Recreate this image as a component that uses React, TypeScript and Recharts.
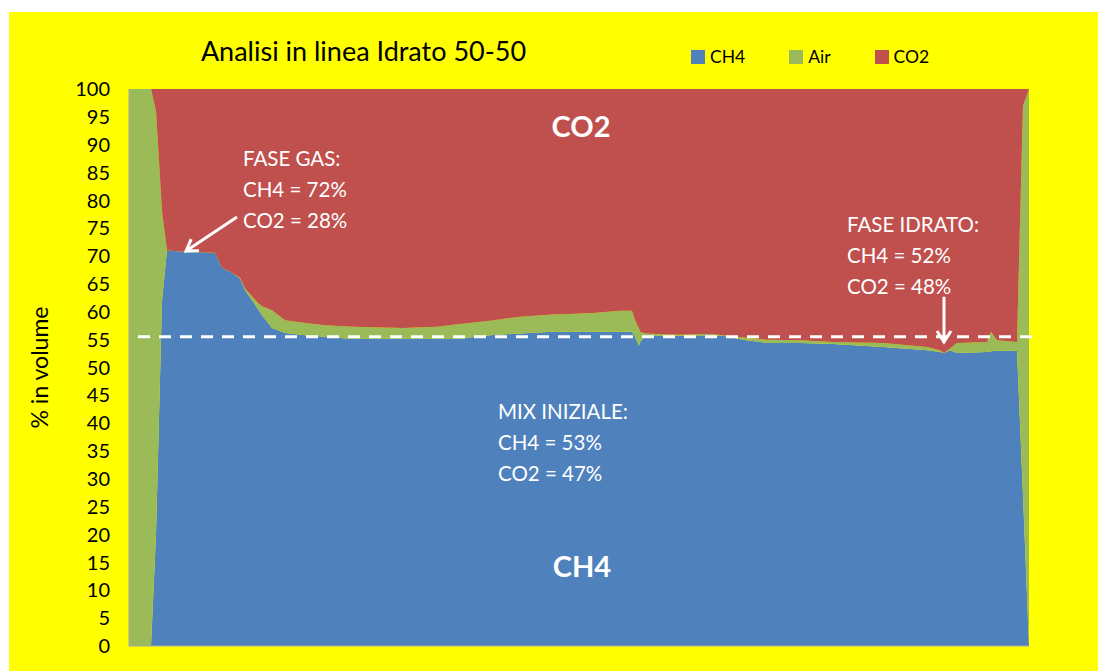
import React from 'react';
import { AreaChart, Area, XAxis, YAxis, ReferenceLine } from 'recharts';

// sample time (arbitrary units along the run)
const time = [0, 22, 27, 33, 38, 56, 86, 93, 103, 111, 116, 129, 133, 143, 156, 176, 196, 224, 274, 308, 331, 341, 361, 391, 424, 441, 464, 491, 503, 506, 510, 511, 516, 548, 581, 594, 614, 631, 638, 671, 704, 754, 798, 811, 815, 821, 828, 858, 862, 868, 888, 894, 900];
const ch4 = [0, 0, 20, 62, 71, 70.8, 70.6, 67.9, 67.0, 66.0, 63.9, 60.5, 59.4, 57.1, 56.2, 55.8, 55.5, 55.1, 55.1, 55.1, 55.1, 55.4, 55.8, 56.1, 56.4, 56.4, 56.4, 56.4, 56.4, 55.5, 53.9, 54.5, 55.8, 55.7, 55.8, 55.7, 55.0, 54.6, 54.4, 54.4, 54.2, 53.7, 53.1, 52.8, 52.6, 53.1, 52.6, 52.8, 52.9, 53.0, 53.0, 27, 0];
const air = [100, 100, 76, 16, 0, 0, 0, 0, 0, 0.1, 0.3, 1.1, 1.6, 3.2, 2.3, 2.2, 2.1, 2.2, 2.0, 2.2, 2.7, 2.6, 2.6, 3.0, 3.1, 3.2, 3.4, 3.8, 3.8, 3.0, 3.1, 1.9, 0.3, 0.2, 0.2, 0.1, 0.4, 0.5, 0.6, 0.5, 0.4, 0.7, 0.6, 0.3, 0, 0.3, 1.8, 1.8, 3.5, 1.9, 1.6, 70, 100];
const co2 = [0, 0, 4, 22, 29.0, 29.2, 29.4, 32.1, 33.0, 33.9, 35.8, 38.4, 39.0, 39.7, 41.5, 42.0, 42.4, 42.7, 42.9, 42.7, 42.2, 42.0, 41.6, 40.9, 40.5, 40.4, 40.2, 39.8, 39.8, 41.5, 43.0, 43.6, 43.9, 44.1, 44.0, 44.2, 44.6, 44.9, 45.0, 45.1, 45.4, 45.6, 46.3, 46.9, 47.4, 46.6, 45.6, 45.4, 43.6, 45.1, 45.4, 3, 0];

const seriesNames = ['CH4', 'Air', 'CO2'];
const seriesColors = ['#4F81BD', '#9BBB59', '#C0504D'];
const yTicks = [0, 5, 10, 15, 20, 25, 30, 35, 40, 45, 50, 55, 60, 65, 70, 75, 80, 85, 90, 95, 100];

const mixLevel = 55.5;
const dashSpan = [9, 909];
const gasArrow = [{ x: 108, y: 77 }, { x: 57, y: 70.9 }];
const hydrateArrow = [{ x: 815, y: 62.7 }, { x: 815, y: 54.6 }];

const data = time.map((t, i) => ({ t, CH4: ch4[i], Air: air[i], CO2: co2[i] }));

const Arrow = (props: any) => {
  const { x1, y1, x2, y2 } = props;
  const ang = Math.atan2(y2 - y1, x2 - x1);
  const L = 13;
  const a = Math.PI / 5.5;
  const p1 = [x2 - L * Math.cos(ang - a), y2 - L * Math.sin(ang - a)];
  const p2 = [x2 - L * Math.cos(ang + a), y2 - L * Math.sin(ang + a)];
  return (
    <g>
      <line x1={x1} y1={y1} x2={x2} y2={y2} stroke="#fff" strokeWidth={3} />
      <polyline points={`${p1[0]},${p1[1]} ${x2},${y2} ${p2[0]},${p2[1]}`} fill="none" stroke="#fff" strokeWidth={3} />
    </g>
  );
};

const note = (left: number, top: number, lines: string[]) => (
  <div style={{ position: 'absolute', left, top, color: '#fff', fontSize: 20.5, lineHeight: '31px', whiteSpace: 'nowrap' }}>
    {lines.map((l) => (<div key={l}>{l}</div>))}
  </div>
);

export default function App() {
  return (
    <div style={{ position: 'absolute', left: 9, top: 12, width: 1089, height: 659, background: '#FFFF00', fontFamily: 'Lato, sans-serif', overflow: 'hidden' }}>
      <AreaChart width={1089} height={659} data={data} margin={{ top: 77, right: 69, bottom: 24, left: 0 }}>
        <XAxis dataKey="t" type="number" domain={[0, 900]} tick={false} tickLine={false} height={1} axisLine={{ stroke: '#a6a6a6' }} />
        <YAxis
          domain={[0, 100]}
          ticks={yTicks}
          interval={0}
          width={120}
          tickLine={false}
          tickMargin={13}
          axisLine={{ stroke: '#a6a6a6' }}
          tick={{ fill: '#000', fontSize: 20 }}
          label={{ value: '% in volume', angle: -90, position: 'insideLeft', offset: 31, style: { textAnchor: 'middle', fill: '#000', fontSize: 23 } }}
        />
        {seriesNames.map((name, i) => (
          <Area key={name} type="linear" dataKey={name} stackId="1" stroke="none" fill={seriesColors[i]} fillOpacity={1} isAnimationActive={false} dot={false} activeDot={false} />
        ))}
        <ReferenceLine segment={[{ x: dashSpan[0], y: mixLevel }, { x: dashSpan[1], y: mixLevel }]} stroke="#fff" strokeWidth={3} strokeDasharray="12 9" ifOverflow="visible" />
        <ReferenceLine segment={gasArrow} shape={Arrow} ifOverflow="visible" />
        <ReferenceLine segment={hydrateArrow} shape={Arrow} ifOverflow="visible" />
      </AreaChart>
      <div style={{ position: 'absolute', left: 0, width: 709, top: 22, textAlign: 'center', fontSize: 27, color: '#000', lineHeight: '34px' }}>
        Analisi in linea Idrato 50-50
      </div>
      <div style={{ position: 'absolute', left: 682, top: 36, display: 'flex', gap: 44, fontSize: 17.5, color: '#000', lineHeight: '18px' }}>
        {seriesNames.map((name, i) => (
          <div key={name} style={{ display: 'flex', alignItems: 'center' }}>
            <span style={{ display: 'inline-block', width: 14, height: 14, background: seriesColors[i], marginRight: 5 }} />
            <span>{name}</span>
          </div>
        ))}
      </div>
      <div style={{ position: 'absolute', left: 472, width: 200, top: 96, textAlign: 'center', color: '#fff', fontWeight: 700, fontSize: 29 }}>CO2</div>
      <div style={{ position: 'absolute', left: 473, width: 200, top: 536, textAlign: 'center', color: '#fff', fontWeight: 700, fontSize: 29 }}>CH4</div>
      {note(234, 131, ['FASE GAS:', 'CH4 = 72%', 'CO2 = 28%'])}
      {note(838, 197, ['FASE IDRATO:', 'CH4 = 52%', 'CO2 = 48%'])}
      {note(489, 384, ['MIX INIZIALE:', 'CH4 = 53%', 'CO2 = 47%'])}
    </div>
  );
}
